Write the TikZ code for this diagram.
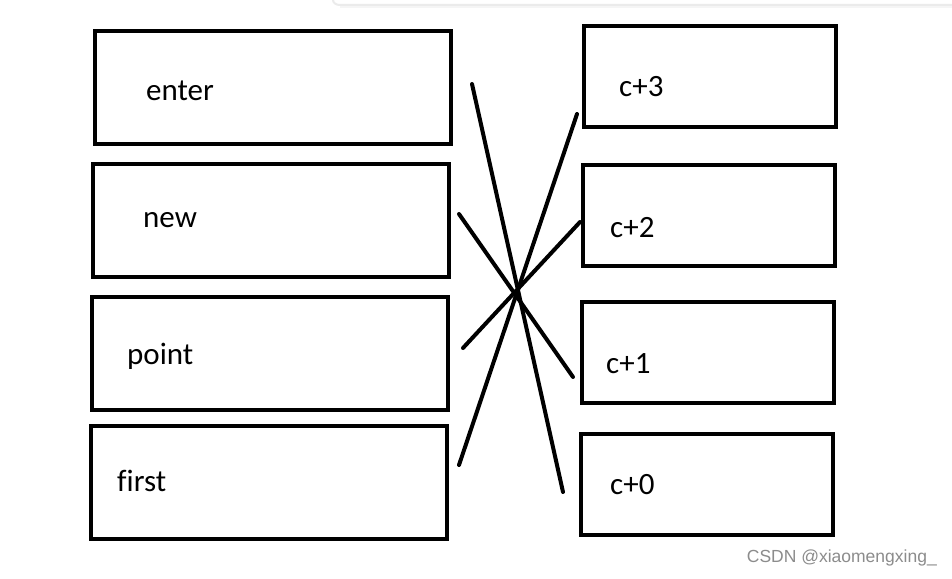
\documentclass[tikz,border=0pt]{standalone}
\usepackage{fontspec}
\setmainfont[Ligatures=NoCommon]{Carlito}
\newfontfamily\wmfont{Liberation Sans}
\begin{document}
\begin{tikzpicture}[x=1pt,y=-1pt,
  box/.style={draw=black,line width=4.8pt},
  lbl/.style={anchor=west,font=\fontsize{31}{34}\selectfont,inner sep=0pt},
  link/.style={draw=black,line width=4pt,line cap=round}]
\useasboundingbox (0,0) rectangle (952,578);
\fill[white] (0,0) rectangle (952,578);
% top window edge
\draw[black!8,line width=2pt] (333,0) to[out=-90,in=180] (340,5) -- (952,5);
\draw[black!4,line width=2pt] (340,7.5) -- (952,7.5);
% left boxes
\node[box,minimum width=356pt,minimum height=113pt,inner sep=0pt] (enter) at (273,87.5) {};
\node[box,minimum width=356pt,minimum height=113pt,inner sep=0pt] (new) at (271,220.5) {};
\node[box,minimum width=356pt,minimum height=113pt,inner sep=0pt] (point) at (270,353.5) {};
\node[box,minimum width=356pt,minimum height=113pt,inner sep=0pt] (first) at (269,482.5) {};
% right boxes
\node[box,minimum width=252pt,minimum height=101pt,inner sep=0pt] (c3) at (710,76.5) {};
\node[box,minimum width=252pt,minimum height=101pt,inner sep=0pt] (c2) at (709,215.5) {};
\node[box,minimum width=252pt,minimum height=101pt,inner sep=0pt] (c1) at (708,352.5) {};
\node[box,minimum width=252pt,minimum height=101pt,inner sep=0pt] (c0) at (707,484.5) {};
% labels
\node[lbl] (tenter) at (146,91) {enter};
\node[lbl] (tnew) at (143,220) {new};
\node[lbl] (tpoint) at (127,356) {point};
\node[lbl] (tfirst) at (117,481) {first};
\node[lbl] (tc3) at (619,87) {c+3};
\node[lbl] (tc2) at (610,228) {c+2};
\node[lbl] (tc1) at (606,364) {c+1};
\node[lbl] (tc0) at (610,485) {c+0};
% connector endpoints
\coordinate (a1) at (472,84);  \coordinate (a2) at (563,492);
\coordinate (b1) at (577,114); \coordinate (b2) at (459,465);
\coordinate (d1) at (459,214); \coordinate (d2) at (573,377);
\coordinate (e1) at (580,222); \coordinate (e2) at (463,348);
\draw[link] (a1) -- (a2);
\draw[link] (b1) -- (b2);
\draw[link] (d1) -- (d2);
\draw[link] (e1) -- (e2);
% watermark
\node[anchor=east,font=\wmfont\fontsize{17.5}{20}\selectfont,text=black!45,inner sep=0pt] (wm) at (937,558) {CSDN @xiaomengxing\_};
\end{tikzpicture}
\end{document}
